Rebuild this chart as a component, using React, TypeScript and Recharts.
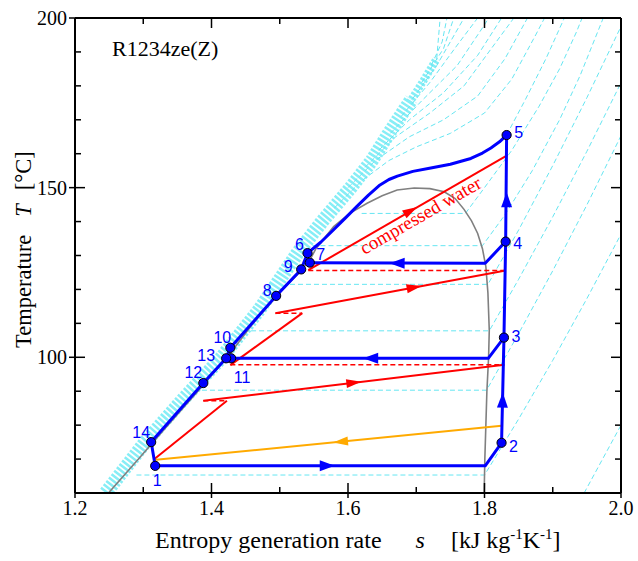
import React from 'react';
import { ComposedChart, Line, Scatter, XAxis, YAxis, ReferenceLine } from 'recharts';

// frame of the plot inside the svg (px)
const WIDTH = 638;
const HEIGHT = 561;
const PLOT_L = 75;
const PLOT_R = 621;
const PLOT_T = 18;
const PLOT_B = 493;
const S_DOMAIN = [1.2, 2.0];
const T_DOMAIN = [60, 200];
const KX = (PLOT_R - PLOT_L) / (S_DOMAIN[1] - S_DOMAIN[0]);
const KY = (PLOT_B - PLOT_T) / (T_DOMAIN[1] - T_DOMAIN[0]);

const SERIF = "'Liberation Serif', 'Times New Roman', Times, serif";
const SANS = "'Liberation Sans', Arial, Helvetica, sans-serif";

const BLUE = '#0000ff';
const RED = '#ff0000';
const ORANGE = '#ffaa00';
const CYAN = '#66e6f2';
const BAND = '#86eef6';

// axis ticks
const sTicks = [1.2, 1.3, 1.4, 1.5, 1.6, 1.7, 1.8, 1.9, 2.0];
const sTickLabels = [1.2, 1.4, 1.6, 1.8, 2.0];
const tTicks = [60, 70, 80, 90, 100, 110, 120, 130, 140, 150, 160, 170, 180, 190, 200];
const tTickLabels = [100, 150, 200];

// saturation dome [s, T]
const domeLine = [
  [1.249, 60], [1.293, 70], [1.336, 80], [1.38, 90], [1.423, 100], [1.461, 110], [1.504, 120],
  [1.529, 125], [1.545, 129], [1.553, 132], [1.579, 138.5], [1.603, 142.5], [1.628, 145.4],
  [1.65, 147.6], [1.672, 149.3], [1.697, 149.9], [1.72, 149.7], [1.741, 148.8], [1.757, 146.8],
  [1.77, 143.6], [1.781, 140.2], [1.79, 136.5], [1.797, 132], [1.802, 126.7], [1.805, 119],
  [1.807, 108], [1.806, 100], [1.8035, 90], [1.802, 80], [1.8005, 70], [1.7995, 60],
];

// dense liquid-side isobars (drawn as one striped band)
const liquidBand = [
  [1.245, 60], [1.303, 75], [1.36, 88], [1.415, 100], [1.47, 114], [1.527, 131], [1.562, 140],
  [1.604, 150], [1.635, 158], [1.66, 166], [1.693, 176],
];
const liquidBandTop = [[1.69, 175], [1.712, 182], [1.73, 188]];

// isobars, subcritical (flat across the dome) and supercritical
const isobarL = [[1.946, 60], [1.973, 70], [2.0, 80]];
const isobarA = [[1.29, 65.3], [1.8, 65.3], [1.85, 81.8], [1.9, 99.1], [1.95, 117.3], [2.0, 136.3]];
const isobarB = [[1.386, 90.3], [1.803, 90.3], [1.85, 107], [1.9, 125.5], [1.95, 144.9], [2.0, 165.3]];
const isobarC = [[1.458, 107.8], [1.807, 107.8], [1.85, 123], [1.9, 141.4], [1.95, 160.7], [2.0, 180.9]];
const isobarD = [[1.515, 121.5], [1.805, 121.5], [1.85, 137.5], [1.9, 156.5], [1.95, 176.5], [2.0, 197.5]];
const isobarE = [[1.548, 132.9], [1.797, 132.9], [1.83, 142], [1.87, 155], [1.91, 170], [1.94, 183], [1.966, 196], [1.974, 200]];
const isobarF = [[1.62, 142.4], [1.772, 142.4], [1.8, 150], [1.84, 161], [1.88, 174], [1.91, 185], [1.935, 196], [1.943, 200]];
const isobarG = [[1.8324, 165.5], [1.86, 176], [1.89, 188], [1.917, 200]];
const isobarH1 = [[1.58, 144], [1.62, 152], [1.66, 158], [1.7, 162], [1.75, 166], [1.8, 172], [1.84, 182], [1.875, 195], [1.888, 200]];
const isobarH2 = [[1.6, 150], [1.64, 158], [1.69, 165], [1.74, 170], [1.79, 177], [1.83, 188], [1.863, 200]];
const isobarH3 = [[1.625, 156], [1.67, 165], [1.72, 172], [1.77, 180], [1.81, 191], [1.843, 200]];
const isobarH4 = [[1.645, 161], [1.69, 170], [1.74, 178], [1.79, 189], [1.825, 200]];
const isobarH5 = [[1.662, 166], [1.71, 176], [1.76, 186], [1.8, 198], [1.806, 200]];
const isobarH6 = [[1.678, 171], [1.72, 181], [1.76, 192], [1.79, 200]];
const isobarH7 = [[1.694, 176], [1.73, 186], [1.77, 200]];
const isobarH8 = [[1.708, 181], [1.74, 191], [1.755, 200]];
const isobarH9 = [[1.722, 186], [1.738, 193], [1.745, 200]];
const isobarH10 = [[1.73, 188], [1.735, 200]];

// heat pump cycle
const cycleMain = [
  [1.3175, 68], [1.801, 68], [1.825, 74.8], [1.8285, 105.8], [1.831, 134.1], [1.8324, 165.5],
  [1.822, 163.5], [1.8094, 161.7], [1.797, 160.2], [1.78, 158.6], [1.75, 156.9], [1.7213, 155.8],
  [1.695, 154.8], [1.6723, 153.4], [1.66, 152.4], [1.6469, 150.8], [1.63, 147.8], [1.6127, 144.4],
  [1.596, 141], [1.5785, 137.5], [1.56, 133.9], [1.5407, 130.7], [1.5314, 125.9], [1.4947, 118.1],
  [1.4276, 102.8], [1.4215, 99.7], [1.388, 92.4], [1.3116, 75], [1.3175, 68],
];
const cycleMid = [[1.8285, 105.8], [1.8055, 99.7], [1.4288, 99.7]];
const cycleHigh = [[1.831, 134.1], [1.801, 127.7], [1.544, 127.9]];

const statePoints = [
  { id: '1', s: 1.3175, T: 68.0 },
  { id: '2', s: 1.825, T: 74.8 },
  { id: '3', s: 1.8285, T: 105.8 },
  { id: '4', s: 1.831, T: 134.1 },
  { id: '5', s: 1.8324, T: 165.5 },
  { id: '6', s: 1.5407, T: 130.7 },
  { id: '7', s: 1.544, T: 127.9 },
  { id: '8', s: 1.4947, T: 118.1 },
  { id: '9', s: 1.5314, T: 125.9 },
  { id: '10', s: 1.4276, T: 102.8 },
  { id: '11', s: 1.4288, T: 99.7 },
  { id: '12', s: 1.388, T: 92.4 },
  { id: '13', s: 1.4215, T: 99.7 },
  { id: '14', s: 1.3116, T: 75.0 },
];
const labelOffset: Record<string, [number, number]> = {
  '1': [2, 15], '2': [12, 4], '3': [12, -1], '4': [12, 2], '5': [12, -3], '6': [-8, -9],
  '7': [11, -8], '8': [-9, -5], '9': [-13, -3], '10': [-8, -10], '11': [11, 19],
  '12': [-10, -11], '13': [-20, -3], '14': [-10, -10],
};

// water (heat source) lines
const water1 = [[1.5418, 125.7], [1.8338, 159.6]];
const water2 = [[1.831, 125.6], [1.4937, 113.0]];
const water3 = [[1.4276, 97.7], [1.533, 113.0]];
const water4 = [[1.829, 97.8], [1.388, 87.2]];
const water5 = [[1.315, 69.8], [1.4226, 87.2]];
const waterDash1 = [[1.5418, 125.6], [1.831, 125.6]];
const waterDash2 = [[1.4937, 113.0], [1.533, 113.0]];
const waterDash3 = [[1.4276, 97.8], [1.829, 97.8]];
const waterDash4 = [[1.388, 87.2], [1.4226, 87.2]];
const coolLine = [[1.315, 69.7], [1.825, 79.8]];

// arrow heads: position and the point they head to
const blueArrows = [
  { s: 1.5696, T: 68, toS: 1.801, toT: 68 },
  { s: 1.8265, T: 87.4, toS: 1.8285, toT: 105.8 },
  { s: 1.6332, T: 99.7, toS: 1.4288, toT: 99.7 },
  { s: 1.8324, T: 146.4, toS: 1.8324, toT: 165.5 },
  { s: 1.672, T: 127.7, toS: 1.544, toT: 127.9 },
];
const redArrows = [
  { s: 1.692, T: 143.2, toS: 1.8338, toT: 159.6 },
  { s: 1.697, T: 120.6, toS: 1.831, toT: 125.6 },
  { s: 1.6086, T: 92.5, toS: 1.829, toT: 97.8 },
];
const orangeArrows = [{ s: 1.589, T: 75.1, toS: 1.315, toT: 69.7 }];
const waterLabelAt = [{ s: 1.711, T: 140.2 }];

const xy = (a: number[][]) => a.map(([s, T]) => ({ s, T }));

const cyanIsobars = [
  isobarL, isobarA, isobarB, isobarC, isobarD, isobarE, isobarF, isobarG,
  isobarH1, isobarH2, isobarH3, isobarH4, isobarH5, isobarH6, isobarH7, isobarH8,
  isobarH9, isobarH10,
];
const waterSolid = [water1, water2, water3, water4, water5];
const waterDashed = [waterDash1, waterDash2, waterDash3, waterDash4];
const cycleLines = [cycleMain, cycleMid, cycleHigh];

const STick = (props: any) => {
  const { x, payload } = props;
  const v = payload.value;
  const major = sTickLabels.includes(v);
  return (
    <g>
      <line x1={x} x2={x} y1={PLOT_B + (major ? 5 : 0)} y2={PLOT_B - (major ? 10 : 6)} stroke="#000" strokeWidth={1.5} />
      <line x1={x} x2={x} y1={PLOT_T} y2={PLOT_T + (major ? 10 : 6)} stroke="#000" strokeWidth={1.5} />
      {major && (
        <text x={x} y={PLOT_B + 22} textAnchor="middle" fontSize={20} fontFamily={SERIF} fill="#000">
          {v.toFixed(1)}
        </text>
      )}
    </g>
  );
};

const TTick = (props: any) => {
  const { y, payload } = props;
  const v = payload.value;
  const major = tTickLabels.includes(v);
  return (
    <g>
      <line x1={PLOT_L - (major ? 6 : 0)} x2={PLOT_L + (major ? 10 : 6)} y1={y} y2={y} stroke="#000" strokeWidth={1.5} />
      <line x1={PLOT_R} x2={PLOT_R - (major ? 10 : 6)} y1={y} y2={y} stroke="#000" strokeWidth={1.5} />
      {major && (
        <text x={PLOT_L - 8} y={y + 7} textAnchor="end" fontSize={20} fontFamily={SERIF} fill="#000">
          {v}
        </text>
      )}
    </g>
  );
};

const XTitle = () => (
  <text x={155} y={548} fontSize={24} fontFamily={SERIF} fill="#000">
    Entropy generation rate
    <tspan dx={34} fontStyle="italic">s</tspan>
    <tspan dx={26}>[kJ kg</tspan>
    <tspan dy={-9} fontSize={15}>-1</tspan>
    <tspan dy={9}>K</tspan>
    <tspan dy={-9} fontSize={15}>-1</tspan>
    <tspan dy={9}>]</tspan>
  </text>
);

const YTitle = () => (
  <text transform="translate(31,348) rotate(-90)" fontSize={22.5} fontFamily={SERIF} fill="#000">
    Temperature
    <tspan dx={18} fontStyle="italic">T</tspan>
    <tspan dx={14}>[°C]</tspan>
  </text>
);

const arrowShape = (color: string, len: number, half: number) => (p: any) => {
  const { cx, cy, payload } = p;
  const ang = (Math.atan2(-(payload.toT - payload.T) * KY, (payload.toS - payload.s) * KX) * 180) / Math.PI;
  return (
    <polygon
      points={`${len / 2},0 ${-len / 2},${-half} ${-len / 2},${half}`}
      transform={`translate(${cx},${cy}) rotate(${ang})`}
      fill={color}
    />
  );
};

const pointShape = (p: any) => {
  const { cx, cy, payload } = p;
  const [dx, dy] = labelOffset[payload.id];
  return (
    <g>
      <circle cx={cx} cy={cy} r={4.6} fill={BLUE} stroke="#000" strokeWidth={1} />
      <text x={cx + dx} y={cy + dy} textAnchor="middle" dominantBaseline="central" fontSize={16} fontFamily={SANS} fill={BLUE}>
        {payload.id}
      </text>
    </g>
  );
};

const waterAngle =
  (Math.atan2(-(water1[1][1] - water1[0][1]) * KY, (water1[1][0] - water1[0][0]) * KX) * 180) / Math.PI;

const waterLabel = (p: any) => (
  <text
    x={p.cx}
    y={p.cy}
    transform={`rotate(${waterAngle} ${p.cx} ${p.cy})`}
    textAnchor="middle"
    fontSize={19}
    fontFamily={SERIF}
    fill={RED}
  >
    compressed water
  </text>
);

export default function App() {
  return (
    <div style={{ position: 'absolute', left: 0, top: 0, width: WIDTH, height: HEIGHT, background: '#fff' }}>
      <ComposedChart
        width={WIDTH}
        height={HEIGHT}
        margin={{ top: PLOT_T, right: WIDTH - PLOT_R, bottom: HEIGHT - PLOT_B - 1, left: PLOT_L - 1 }}
      >
        <XAxis
          type="number"
          dataKey="s"
          domain={S_DOMAIN}
          ticks={sTicks}
          interval={0}
          allowDataOverflow
          height={1}
          tickLine={false}
          axisLine={{ stroke: '#000', strokeWidth: 2 }}
          tick={<STick />}
          label={<XTitle />}
        />
        <YAxis
          type="number"
          dataKey="T"
          domain={T_DOMAIN}
          ticks={tTicks}
          interval={0}
          allowDataOverflow
          width={1}
          tickLine={false}
          axisLine={{ stroke: '#000', strokeWidth: 2 }}
          tick={<TTick />}
          label={<YTitle />}
        />

        <Line
          data={xy(liquidBand)}
          dataKey="T"
          type="linear"
          stroke={BAND}
          strokeWidth={14}
          strokeDasharray="2.5 1.8"
          dot={false}
          activeDot={false}
          isAnimationActive={false}
        />
        <Line
          data={xy(liquidBandTop)}
          dataKey="T"
          type="linear"
          stroke={BAND}
          strokeWidth={8}
          strokeDasharray="2.5 1.8"
          dot={false}
          activeDot={false}
          isAnimationActive={false}
        />
        {cyanIsobars.map((d, i) => (
          <Line
            key={`iso-${i}`}
            data={xy(d)}
            dataKey="T"
            type="linear"
            stroke={CYAN}
            strokeWidth={1}
            strokeDasharray="5 3"
            dot={false}
            activeDot={false}
            isAnimationActive={false}
          />
        ))}
        <Line
          data={xy(domeLine)}
          dataKey="T"
          type="linear"
          stroke="#808080"
          strokeWidth={1.6}
          dot={false}
          activeDot={false}
          isAnimationActive={false}
        />
        {waterDashed.map((d, i) => (
          <Line
            key={`wd-${i}`}
            data={xy(d)}
            dataKey="T"
            type="linear"
            stroke={RED}
            strokeWidth={1.5}
            strokeDasharray="5 3"
            dot={false}
            activeDot={false}
            isAnimationActive={false}
          />
        ))}
        {waterSolid.map((d, i) => (
          <Line
            key={`ws-${i}`}
            data={xy(d)}
            dataKey="T"
            type="linear"
            stroke={RED}
            strokeWidth={2}
            dot={false}
            activeDot={false}
            isAnimationActive={false}
          />
        ))}
        <Line
          data={xy(coolLine)}
          dataKey="T"
          type="linear"
          stroke={ORANGE}
          strokeWidth={2}
          dot={false}
          activeDot={false}
          isAnimationActive={false}
        />
        {cycleLines.map((d, i) => (
          <Line
            key={`cy-${i}`}
            data={xy(d)}
            dataKey="T"
            type="linear"
            stroke={BLUE}
            strokeWidth={3}
            strokeLinejoin="round"
            dot={false}
            activeDot={false}
            isAnimationActive={false}
          />
        ))}

        <ReferenceLine y={200} stroke="#000" strokeWidth={2} />
        <ReferenceLine x={2.0} stroke="#000" strokeWidth={2} />

        <Scatter data={redArrows} shape={arrowShape(RED, 15, 4.5)} isAnimationActive={false} />
        <Scatter data={orangeArrows} shape={arrowShape(ORANGE, 15, 4.5)} isAnimationActive={false} />
        <Scatter data={blueArrows} shape={arrowShape(BLUE, 15, 5.5)} isAnimationActive={false} />
        <Scatter data={waterLabelAt} shape={waterLabel} isAnimationActive={false} />
        <Scatter data={statePoints} shape={pointShape} isAnimationActive={false} />
      </ComposedChart>
      <div
        style={{
          position: 'absolute',
          left: 112,
          top: 38,
          fontFamily: SERIF,
          fontSize: 22,
          lineHeight: '22px',
          color: '#000',
          whiteSpace: 'nowrap',
        }}
      >
        R1234ze(Z)
      </div>
    </div>
  );
}
